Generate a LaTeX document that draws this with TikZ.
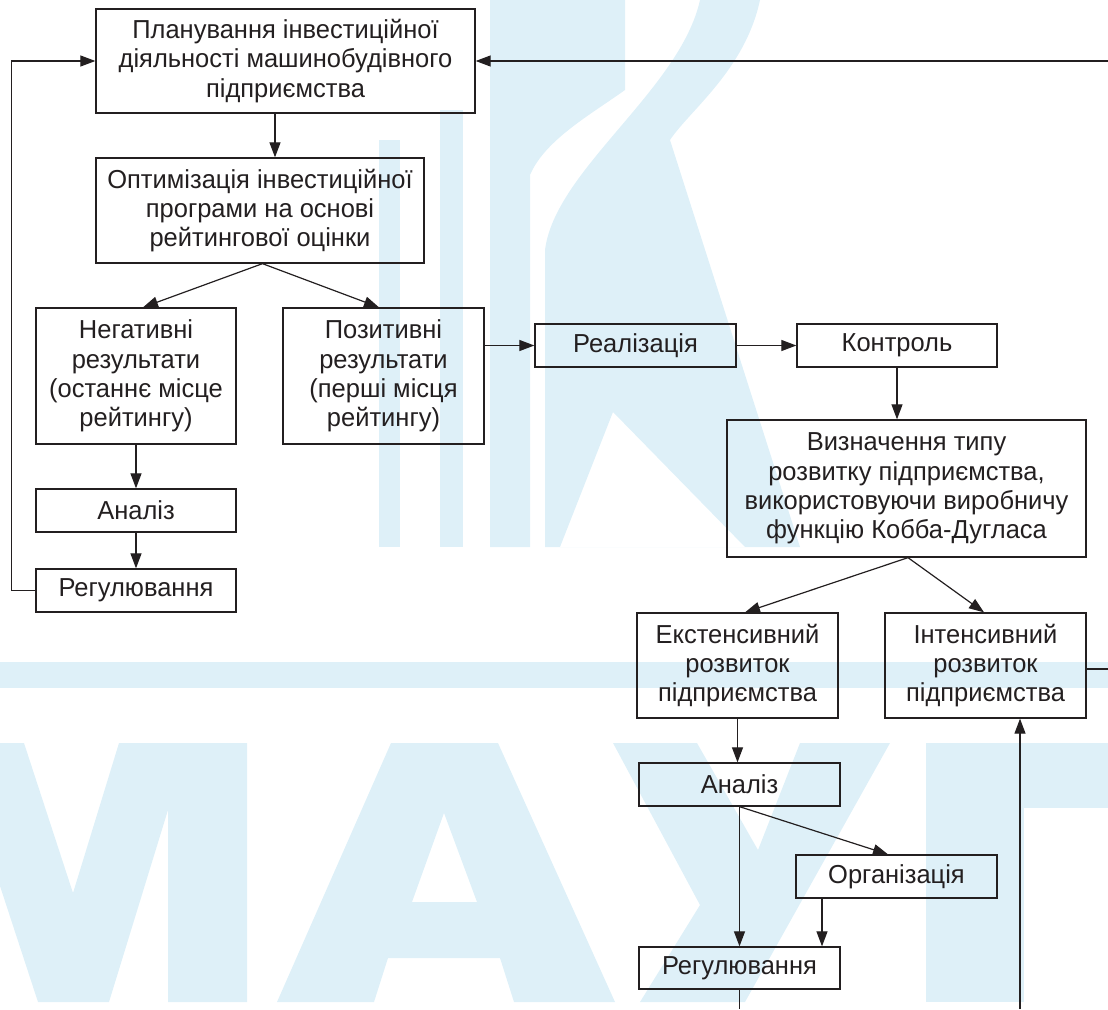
\documentclass[tikz,border=0pt]{standalone}
\usepackage{fontspec}
\setmainfont{Liberation Sans}[FakeStretch=0.98]
\usetikzlibrary{arrows.meta,calc}
\definecolor{wm}{RGB}{222,240,248}
\definecolor{ink}{RGB}{35,31,32}
\begin{document}
\begin{tikzpicture}[x=1pt,y=-1pt,
  box/.style={draw=ink, line width=1.3pt, inner sep=0pt, align=center,
    font=\fontsize{26}{29.2}\selectfont, text=ink},
  arr/.style={draw=ink, line width=1.2pt, -{Triangle[length=15pt,width=11pt]}},
  ln/.style={draw=ink, line width=1.2pt}]
\useasboundingbox (0,0) rectangle (1108,1009);
% ---- watermark ----
\fill[wm] (0,662) rectangle (1108,688);
\fill[wm] (0,743) -- (24,743) -- (73,893) -- (119,743) -- (247,743) -- (247,1002) -- (168,1002) -- (168,810) -- (109,1002) -- (38,1002) -- (0,886) -- cycle;
\fill[wm, even odd rule] (277,1002) -- (391,743) -- (498,743) -- (615,1002) -- (514,1002) -- (500,958) -- (388,958) -- (374,1002) -- cycle (412,902) -- (444,813) -- (477,902) -- cycle;
\fill[wm] (613,743) -- (697,743) -- (758,850) -- (800,743) -- (890,743) -- (745,1002) -- (640,1002) -- (700,905) -- cycle;
\fill[wm] (926,743) rectangle (1108,808);
\fill[wm] (926,743) rectangle (1024,1002);
\fill[wm] (379,140) rectangle (400,547);
\fill[wm] (440,110) rectangle (463,547);
\fill[wm] (490,0) -- (625,0) -- (625,90) .. controls (590,115) and (545,140) .. (530,175) -- (530,547) -- (490,547) -- cycle;
\fill[wm, even odd rule] (700,0) -- (760,0) .. controls (745,70) and (690,110) .. (670,140) -- (800,547) -- (545,547) -- (545,250) .. controls (555,170) and (680,90) .. (700,0) -- cycle (560,547) -- (613,412) -- (745,547) -- cycle;
% ---- boxes ----
\node[box, minimum width=379pt, minimum height=104pt] (b1) at (285.5,61) {Планування інвестиційної\\діяльності машинобудівного\\підприємства};
\node[box, minimum width=328pt, minimum height=105pt] (b2) at (260,210.5) {Оптимізація інвестиційної\\програми на основі\\рейтингової оцінки};
\node[box, minimum width=200pt, minimum height=136pt] (neg) at (136,376) {Негативні\\результати\\(останнє місце\\рейтингу)};
\node[box, minimum width=201pt, minimum height=136pt] (pos) at (383.5,376) {Позитивні\\результати\\(перші місця\\рейтингу)};
\node[box, minimum width=200pt, minimum height=43pt] (an1) at (136,510.5) {Аналіз};
\node[box, minimum width=200pt, minimum height=43pt] (reg1) at (136,590.5) {Регулювання};
\node[box, minimum width=201pt, minimum height=43pt] (real) at (635.5,345.5) {Реалізація};
\node[box, minimum width=200pt, minimum height=43pt] (kont) at (897,345.5) {Контроль};
\node[box, minimum width=359pt, minimum height=137pt] (vyz) at (906.5,488.5) {Визначення типу\\розвитку підприємства,\\використовуючи виробничу\\функцію Кобба-Дугласа};
\node[box, minimum width=201pt, minimum height=105pt] (ext) at (737.5,665.5) {Екстенсивний\\розвиток\\підприємства};
\node[box, minimum width=201pt, minimum height=105pt] (int) at (985.5,665.5) {Інтенсивний\\розвиток\\підприємства};
\node[box, minimum width=201pt, minimum height=43pt] (an2) at (739.5,784.5) {Аналіз};
\node[box, minimum width=201pt, minimum height=43pt] (org) at (896.5,876.5) {Організація};
\node[box, minimum width=201pt, minimum height=42pt] (reg2) at (739.5,968) {Регулювання};
% ---- free ends ----
\coordinate (rin) at (1108,61);
\coordinate (ir) at (1108,669);
\coordinate (ib) at (1020,1009);
\coordinate (rb) at (739.5,1009);
\coordinate (p1) at ($(b1.south)+(-10.5,0)$);
\coordinate (p2) at ($(org.south)+(-74.5,0)$);
% ---- connectors ----
\draw[arr] (p1) -- (p1 |- b2.north);
\draw[arr] ($(b2.south)+(2.5,0)$) -- ($(neg.north)+(7,0)$);
\draw[arr] ($(b2.south)+(2.5,0)$) -- ($(pos.north)+(-4.5,0)$);
\draw[arr] (neg.south) -- (an1.north);
\draw[arr] (an1.south) -- (reg1.north);
\draw[arr] (reg1.west) -- ++(-24,0) |- (b1.west);
\draw[arr] (rin) -- (b1.east);
\draw[arr] (pos.east |- real.west) -- (real.west);
\draw[arr] (real.east) -- (kont.west);
\draw[arr] (kont.south) -- (kont.south |- vyz.north);
\draw[arr] ($(vyz.south)+(1.5,0)$) -- ($(ext.north)+(7.5,0)$);
\draw[arr] ($(vyz.south)+(1.5,0)$) -- ($(int.north)+(-1.5,0)$);
\draw[arr] (ext.south) -- (ext.south |- an2.north);
\draw[arr] (an2.south) -- (reg2.north);
\draw[arr] (an2.south) -- ($(org.north)+(-8.5,0)$);
\draw[arr] (p2) -- (p2 |- reg2.north);
\draw[ln] (reg2.south) -- (rb);
\draw[arr] (ib) -- (ib |- int.south);
\draw[ln] (ir -| int.east) -- (ir);
\end{tikzpicture}
\end{document}
